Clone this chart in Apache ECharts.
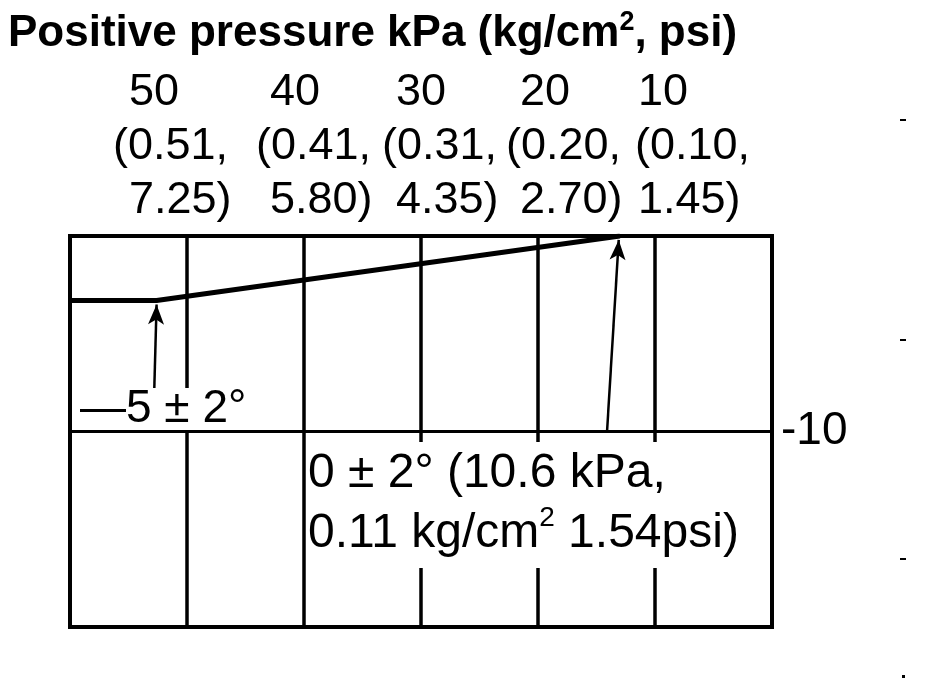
<!DOCTYPE html>
<html>
<head>
<meta charset="utf-8">
<script src="https://cdn.jsdelivr.net/npm/echarts@6/dist/echarts.min.js"></script>
<style>
html,body{margin:0;padding:0;background:#fff;}
#chart{width:928px;height:680px;}
</style>
</head>
<body>
<div id="chart"></div>
<script>
// ---- data ----
const kPaTicks = [50, 40, 30, 20, 10];
const kgTicks = ['0.51', '0.41', '0.31', '0.20', '0.10'];
const psiTicks = ['7.25', '5.80', '4.35', '2.70', '1.45'];
const curveKPa = [60, 52.6, 13];
const curveDeg = [-3.3, -3.3, 0];
const arrowFrom = [[52.8, -7.9], [14.1, -10]];
const arrowTo = [[52.6, -3.5], [13.1, -0.2]];
const yLabelValues = [-10];

const FONT = "'Liberation Sans', Arial, Helvetica, sans-serif";
const chart = echarts.init(document.getElementById('chart'), null, {renderer: 'canvas'});

// per-label horizontal nudges (hand-lettered layout of the original)
const labelShift = [0, 26, 35, 42, 54];
const labelHang = [16, 14, 14, 14, 3];
const labelRich = {};
labelShift.forEach(function (s, i) {
  labelRich['h' + i] = { fontFamily: FONT, fontSize: 45, color: '#000', padding: [0, 0, 0, s + labelHang[i]] };
  labelRich['p' + i] = { fontFamily: FONT, fontSize: 45, color: '#000', padding: [0, 0, 0, s] };
});

const option = {
  backgroundColor: '#ffffff',
  animation: false,
  title: {
    text: 'Positive pressure kPa (kg/cm{sup|2}, psi)',
    left: 3,
    top: 4,
    textStyle: {
      fontFamily: FONT, fontSize: 44, fontWeight: 'bold', color: '#000',
      rich: { sup: { fontFamily: FONT, fontSize: 27, fontWeight: 'bold', color: '#000', verticalAlign: 'top', padding: [0, 0, 22, 0] } }
    }
  },
  grid: {
    left: 70, right: 156, top: 236, bottom: 53,
    show: true, borderColor: '#000', borderWidth: 4, backgroundColor: 'transparent'
  },
  xAxis: {
    type: 'value', min: 0, max: 60, interval: 10, inverse: true, position: 'top',
    axisLine: { show: false }, axisTick: { show: false },
    splitLine: { show: true, lineStyle: { color: '#000', width: 3.5 } },
    axisLabel: {
      margin: 8, color: '#000', fontFamily: FONT, fontSize: 45, lineHeight: 54,
      align: 'left', padding: [0, 0, 0, -74],
      rich: labelRich,
      formatter: function (v) {
        const i = kPaTicks.indexOf(v);
        if (i < 0) return '';
        return '{h' + i + '|' + kPaTicks[i] + '}\n{p' + i + '|(' + kgTicks[i] + ',}\n{h' + i + '|' + psiTicks[i] + ')}';
      }
    }
  },
  yAxis: {
    type: 'value', min: -20, max: 0, interval: 10, position: 'right',
    axisLine: { show: false }, axisTick: { show: false },
    splitLine: { show: true, lineStyle: { color: '#000', width: 3 } },
    axisLabel: {
      margin: 9, color: '#000', fontFamily: FONT, fontSize: 46,
      formatter: function (v) { return yLabelValues.indexOf(v) >= 0 ? String(v) : ''; }
    }
  },
  series: [{
    type: 'line',
    data: curveKPa.map((x, i) => [x, curveDeg[i]]),
    symbol: 'none',
    lineStyle: { color: '#000', width: 5 },
    z: 5,
    markLine: {
      silent: true,
      symbol: ['none', 'arrow'],
      symbolSize: [12, 20],
      label: { show: false },
      lineStyle: { color: '#000', width: 2.5, type: 'solid' },
      data: arrowFrom.map((f, i) => [{ coord: f }, { coord: arrowTo[i] }])
    }
  }],
  graphic: [
    {
      type: 'text', left: 78, top: 386, z: 100,
      style: {
        text: '—5 ± 2°', font: '46px ' + FONT, fill: '#000', lineHeight: 42,
        backgroundColor: '#fff', padding: [0, 2, 0, 2]
      }
    },
    {
      type: 'text', left: 306, top: 442, z: 100,
      style: {
        text: '0 ± 2° (10.6 kPa,\n0.11 kg/cm{sup|2} 1.54psi)',
        font: '48px ' + FONT, fill: '#000', lineHeight: 60,
        backgroundColor: '#fff', padding: [2, 4, 4, 2],
        rich: {
          sup: { font: '28px ' + FONT, fill: '#000', verticalAlign: 'top', padding: [0, 0, 20, 0] }
        }
      }
    },
    { type: 'rect', shape: { x: 900, y: 119, width: 6, height: 2 }, style: { fill: '#000' } },
    { type: 'rect', shape: { x: 900, y: 339, width: 6, height: 2 }, style: { fill: '#000' } },
    { type: 'rect', shape: { x: 900, y: 558, width: 6, height: 2 }, style: { fill: '#000' } },
    { type: 'rect', shape: { x: 902, y: 675, width: 3, height: 3 }, style: { fill: '#000' } }
  ]
};
chart.setOption(option);
</script>
</body>
</html>
